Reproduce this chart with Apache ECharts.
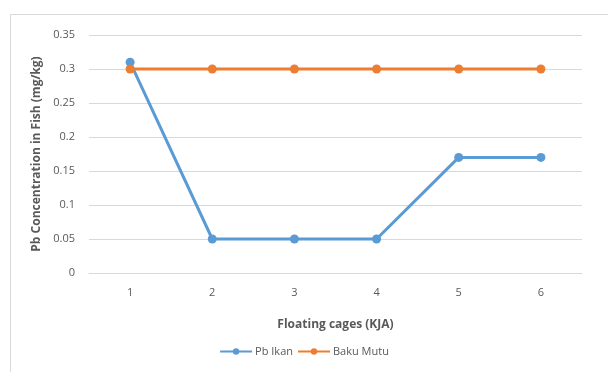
<!DOCTYPE html>
<html><head><meta charset="utf-8">
<script src="https://cdn.jsdelivr.net/npm/echarts@6/dist/echarts.min.js"></script>
<style>html,body{margin:0;padding:0;background:#fff}#c{width:608px;height:372px}</style>
</head><body><div id="c"></div>
<script>
const categories = ['1','2','3','4','5','6'];
const pbIkan = [0.31, 0.05, 0.05, 0.05, 0.17, 0.17];
const bakuMutu = [0.3, 0.3, 0.3, 0.3, 0.3, 0.3];
const yTicks = [0, 0.05, 0.1, 0.15, 0.2, 0.25, 0.3, 0.35];

const chart = echarts.init(document.getElementById('c'), null, {renderer:'canvas'});
const font = '"Open Sans", "Liberation Sans", sans-serif';
chart.setOption({
  animation:false,
  textStyle:{fontFamily:font},
  graphic:[{type:'rect',shape:{x:10.5,y:14.5,width:620,height:400},style:{fill:'none',stroke:'#d9d9d9',lineWidth:1},silent:true}],
  grid:{left:89,right:26,top:35,bottom:99},
  legend:{bottom:10,left:'center',itemWidth:32,itemHeight:8,itemGap:4,
    textStyle:{color:'#595959',fontSize:11,fontFamily:font,padding:[0,0,0,-2]},
    data:['Pb Ikan','Baku Mutu']},
  xAxis:{type:'category',data:categories,boundaryGap:true,
    name:'Floating cages (KJA)',nameLocation:'middle',nameGap:46,
    nameTextStyle:{color:'#595959',fontSize:12,fontWeight:'bold',fontFamily:font},
    axisLine:{lineStyle:{color:'#d9d9d9'}},axisTick:{show:false},
    axisLabel:{color:'#595959',fontSize:11,margin:14}},
  yAxis:{type:'value',min:0,max:0.35,interval:0.05,
    name:'Pb Concentration in Fish (mg/kg)',nameLocation:'middle',nameGap:41,
    nameTextStyle:{color:'#595959',fontSize:12,fontWeight:'bold',fontFamily:font},
    axisLine:{show:false},axisTick:{show:false},
    splitLine:{lineStyle:{color:'#d9d9d9'}},
    axisLabel:{color:'#595959',fontSize:11,margin:14,formatter:v=>{
      const t = yTicks.find(x=>Math.abs(x-v)<1e-9); return String(t!==undefined?t:v);}}},
  series:[
    {name:'Pb Ikan',type:'line',data:pbIkan,symbol:'circle',symbolSize:9,
      lineStyle:{color:'#5B9BD5',width:3},itemStyle:{color:'#5B9BD5'}},
    {name:'Baku Mutu',type:'line',data:bakuMutu,symbol:'circle',symbolSize:9,
      lineStyle:{color:'#ED7D31',width:3},itemStyle:{color:'#ED7D31'}}
  ]
});
</script></body></html>
